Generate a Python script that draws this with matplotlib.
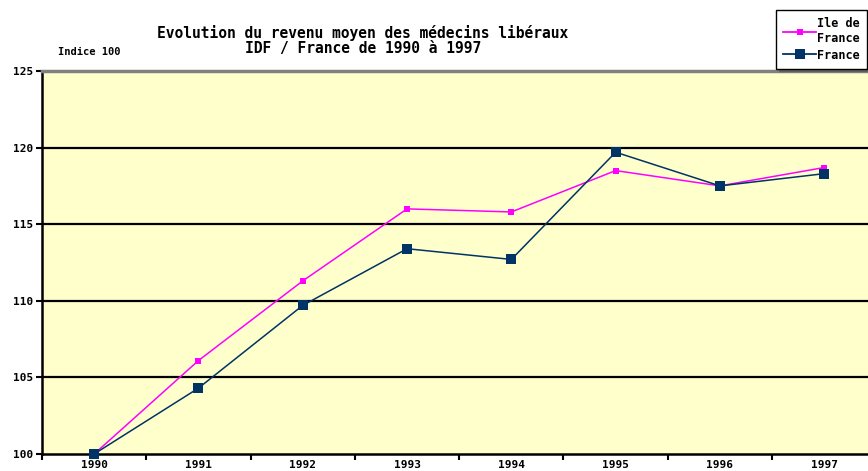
import numpy as np
import matplotlib.pyplot as plt
from matplotlib.lines import Line2D

years = ["1990", "1991", "1992", "1993", "1994", "1995", "1996", "1997"]
idf = [100.0, 106.1, 111.3, 116.0, 115.8, 118.5, 117.5, 118.7]
france = [100.0, 104.3, 109.7, 113.4, 112.7, 119.7, 117.5, 118.3]
yticks = [100, 105, 110, 115, 120, 125]

mono = "DejaVu Sans Mono"

fig = plt.figure(figsize=(8.68, 4.71), dpi=100)
fig.patch.set_facecolor("white")

ax = fig.add_axes([42 / 868, 17 / 471, 1 - 42 / 868, 383 / 471])
ax.set_facecolor("#FFFFCC")

x = np.arange(len(years))

for y in yticks[1:-1]:
    ax.axhline(y, color="black", linewidth=1.6, zorder=1)

ax.plot(x, idf, color="#FF00FF", linewidth=1.1, marker="s",
        markersize=5, markeredgewidth=0, zorder=3, clip_on=False)
ax.plot(x, france, color="#003366", linewidth=1.1, marker="s",
        markersize=7.5, markeredgewidth=0, zorder=4, clip_on=False)

ax.set_yticks(yticks)
ax.set_yticklabels([str(v) for v in yticks], fontsize=8,
                   fontweight="bold", family=mono)
ax.set_xticks(x)
ax.set_xticklabels(years, fontsize=8, fontweight="bold", family=mono)
ax.set_xticks(np.arange(-0.5, 7, 1), minor=True)
ax.tick_params(axis="x", which="major", length=0, pad=4)
ax.tick_params(axis="x", which="minor", length=4, width=1.5,
               direction="out", color="black")
ax.tick_params(axis="y", length=4, width=1.5, direction="out", pad=2)

# limits after the ticks so they are not widened
ax.set_ylim(100, 125)
ax.set_xlim(-0.5, -0.5 + (868 - 42) / 104.3)

ax.spines["top"].set_color("#808080")
ax.spines["top"].set_linewidth(2.5)
ax.spines["left"].set_linewidth(1.8)
ax.spines["bottom"].set_linewidth(1.8)
ax.spines["right"].set_visible(False)

fig.text(363 / 868, 1 - 33 / 471,
         "Evolution du revenu moyen des médecins libéraux",
         ha="center", va="center", fontsize=10.5, fontweight="bold",
         family=mono)
fig.text(363 / 868, 1 - 49 / 471, "IDF / France de 1990 à 1997",
         ha="center", va="center", fontsize=10.5, fontweight="bold",
         family=mono)
fig.text(58 / 868, 1 - 52 / 471, "Indice 100", ha="left", va="center",
         fontsize=7.5, fontweight="bold", family=mono)

handles = [
    Line2D([], [], color="#FF00FF", linewidth=1.3, marker="s",
           markersize=4, markeredgewidth=0),
    Line2D([], [], color="#003366", linewidth=1.3, marker="s",
           markersize=7, markeredgewidth=0),
]
leg = fig.legend(handles, ["Ile de\nFrance", "France"],
                 loc="upper left", bbox_to_anchor=(776 / 868, 1 - 10 / 471),
                 borderaxespad=0,
                 prop={"family": mono, "weight": "bold", "size": 8.5},
                 handlelength=2.8, handletextpad=0.1, borderpad=0.6,
                 labelspacing=0.3, fancybox=False, shadow=True,
                 framealpha=1, edgecolor="black")
leg.get_frame().set_linewidth(1.0)
for t in leg.get_texts():
    t.set_multialignment("left")

fig.savefig("out.png", dpi=100)
